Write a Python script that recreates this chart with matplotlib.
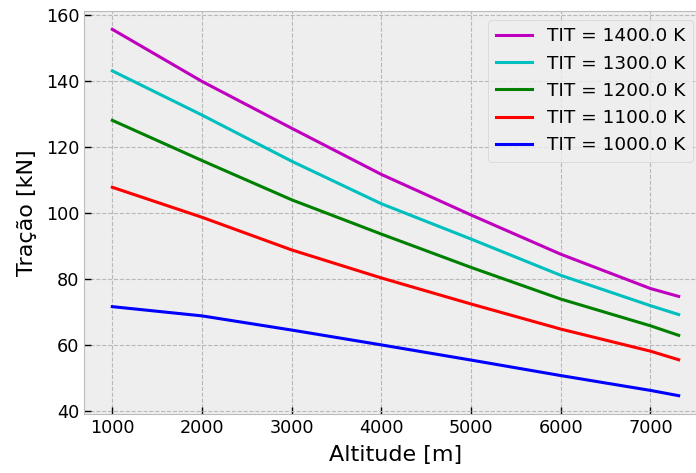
import matplotlib
matplotlib.use("Agg")
import matplotlib.pyplot as plt

altitude = [1000, 2000, 3000, 4000, 5000, 6000, 7000, 7315]
thrust_1400 = [155.8, 140.0, 125.8, 111.8, 99.5, 87.6, 77.2, 74.8]
thrust_1300 = [143.2, 129.8, 115.8, 102.9, 92.2, 81.2, 72.0, 69.3]
thrust_1200 = [128.2, 116.0, 104.1, 93.7, 83.6, 74.0, 65.9, 63.0]
thrust_1100 = [107.9, 98.8, 88.9, 80.4, 72.5, 64.9, 58.2, 55.6]
thrust_1000 = [71.7, 68.9, 64.6, 60.1, 55.5, 50.8, 46.3, 44.7]
labels = ["TIT = 1400.0 K", "TIT = 1300.0 K", "TIT = 1200.0 K",
          "TIT = 1100.0 K", "TIT = 1000.0 K"]
series = [thrust_1400, thrust_1300, thrust_1200, thrust_1100, thrust_1000]
colors = ["m", "c", "g", "r", "b"]

plt.style.use("bmh")
plt.rcParams["font.family"] = ["DejaVu Sans"]
plt.rcParams["font.size"] = 12.7

fig = plt.figure(figsize=(6.96, 4.73), dpi=100)
ax = fig.add_axes([84 / 696, 59 / 473, (707 - 84) / 696, (414 - 11) / 473])
for ys, lab, col in zip(series, labels, colors):
    ax.plot(altitude, ys, color=col, lw=2.2, label=lab)

ax.grid(True, linestyle="--", linewidth=0.8, color="#b8b8b8")
ax.set_xlabel("Altitude [m]", fontsize=16, labelpad=6)
ax.set_ylabel("Tração [kN]", fontsize=16, labelpad=6)
ax.set_yticks([40, 60, 80, 100, 120, 140, 160])
ax.set_xticks([1000, 2000, 3000, 4000, 5000, 6000, 7000])
ax.tick_params(direction="in", length=5, width=1, labelsize=12.7, color="black")
ax.legend(loc="upper right", bbox_to_anchor=(693 / 696, 1 - 20 / 473),
          bbox_transform=fig.transFigure, borderaxespad=0, fontsize=13.3)
fig.savefig("out.png", dpi=100)
